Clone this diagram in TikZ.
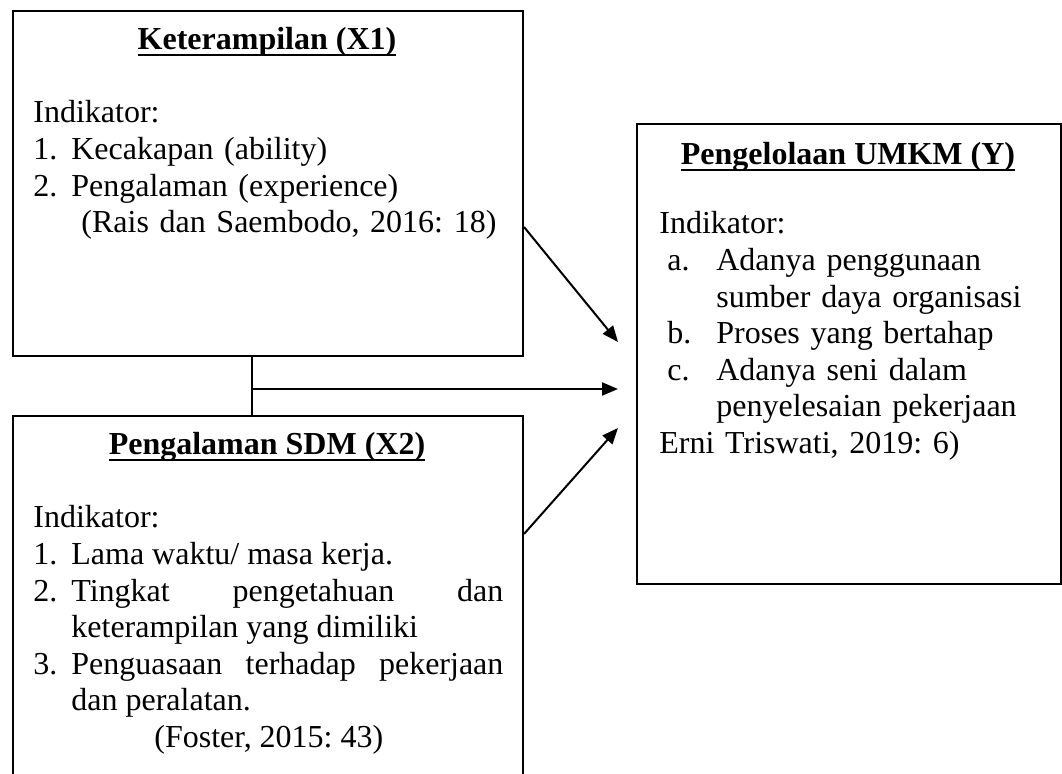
\documentclass[tikz,border=0pt]{standalone}
\usepackage{fontspec}
\setmainfont{Liberation Serif}
\usetikzlibrary{positioning, arrows.meta, calc}
\newcommand{\ulbf}[1]{\setbox0=\hbox{\bfseries #1}\rlap{\rule[-3pt]{\wd0}{1pt}}\box0}
\newcommand{\litem}[3]{\par\noindent\hangindent=#1\hangafter=1\makebox[#1][l]{#2}#3}
\hyphenpenalty=10000
\frenchspacing
\begin{document}
\begin{tikzpicture}[x=0.5pt, y=-0.5pt, font=\fontsize{16pt}{18.3pt}\selectfont,
  box/.style={draw, line width=1pt, inner sep=0pt, anchor=north west},
  ttl/.style={inner sep=0pt, anchor=base},
  txt/.style={inner sep=0pt, anchor=base west, align=left},
  arr/.style={line width=1pt, -{Triangle[length=8pt, width=6.5pt]}}]
\useasboundingbox (0,0) rectangle (1062,774);
\node[box, minimum width=255pt, minimum height=172.5pt] (ket) at (12,10) {};
\node[box, minimum width=255pt, minimum height=187.5pt] (sdm) at (12,415) {};
\node[box, minimum width=212pt, minimum height=230pt] (umkm) at (636,123) {};
\node[ttl] (ketT) at (267,50) {\ulbf{Keterampilan (X1)}};
\node[ttl] (sdmT) at (267,455) {\ulbf{Pengalaman SDM (X2)}};
\node[ttl] (umkmT) at (848,165) {\ulbf{Pengelolaan UMKM (Y)}};
\node[txt, text width=240pt] (ketB) at (33,123) {Indikator:\litem{19pt}{1.}{Kecakapan (ability)}\litem{19pt}{2.}{Pengalaman (experience)\newline\hspace*{5pt}(Rais dan Saembodo, 2016: 18)}\par};
\node[txt, align=justify, text width=235pt] (sdmB) at (33,528) {Indikator:\litem{19pt}{1.}{Lama waktu/ masa kerja.}\litem{19pt}{2.}{Tingkat pengetahuan dan\linebreak keterampilan yang dimiliki}\litem{19pt}{3.}{Penguasaan terhadap pekerjaan\linebreak dan peralatan.\newline\hspace*{41.5pt}(Foster, 2015: 43)}\par};
\node[txt, text width=195pt] (umkmB) at (659,234) {Indikator:\litem{28.5pt}{\hspace{4pt}a.}{Adanya penggunaan\newline sumber daya organisasi}\litem{28.5pt}{\hspace{4pt}b.}{Proses yang bertahap}\litem{28.5pt}{\hspace{4pt}c.}{Adanya seni dalam\newline penyelesaian pekerjaan}\par Erni Triswati, 2019: 6)};
\coordinate (jn) at (252,389);
\coordinate (tipA) at ($(umkm.north west)+(-18,219)$);
\coordinate (tipB) at ($(umkm.north west)+(-18,266)$);
\coordinate (tipC) at ($(umkm.north west)+(-18,305)$);
\draw[arr] ($(ket.north east)+(0,217)$) -- (tipA);
\draw[line width=1pt] (ket.south -| jn) -- (sdm.north -| jn);
\draw[arr] (jn) -- (jn -| tipB);
\draw[arr] ($(sdm.north east)+(0,119)$) -- (tipC);
\end{tikzpicture}
\end{document}
